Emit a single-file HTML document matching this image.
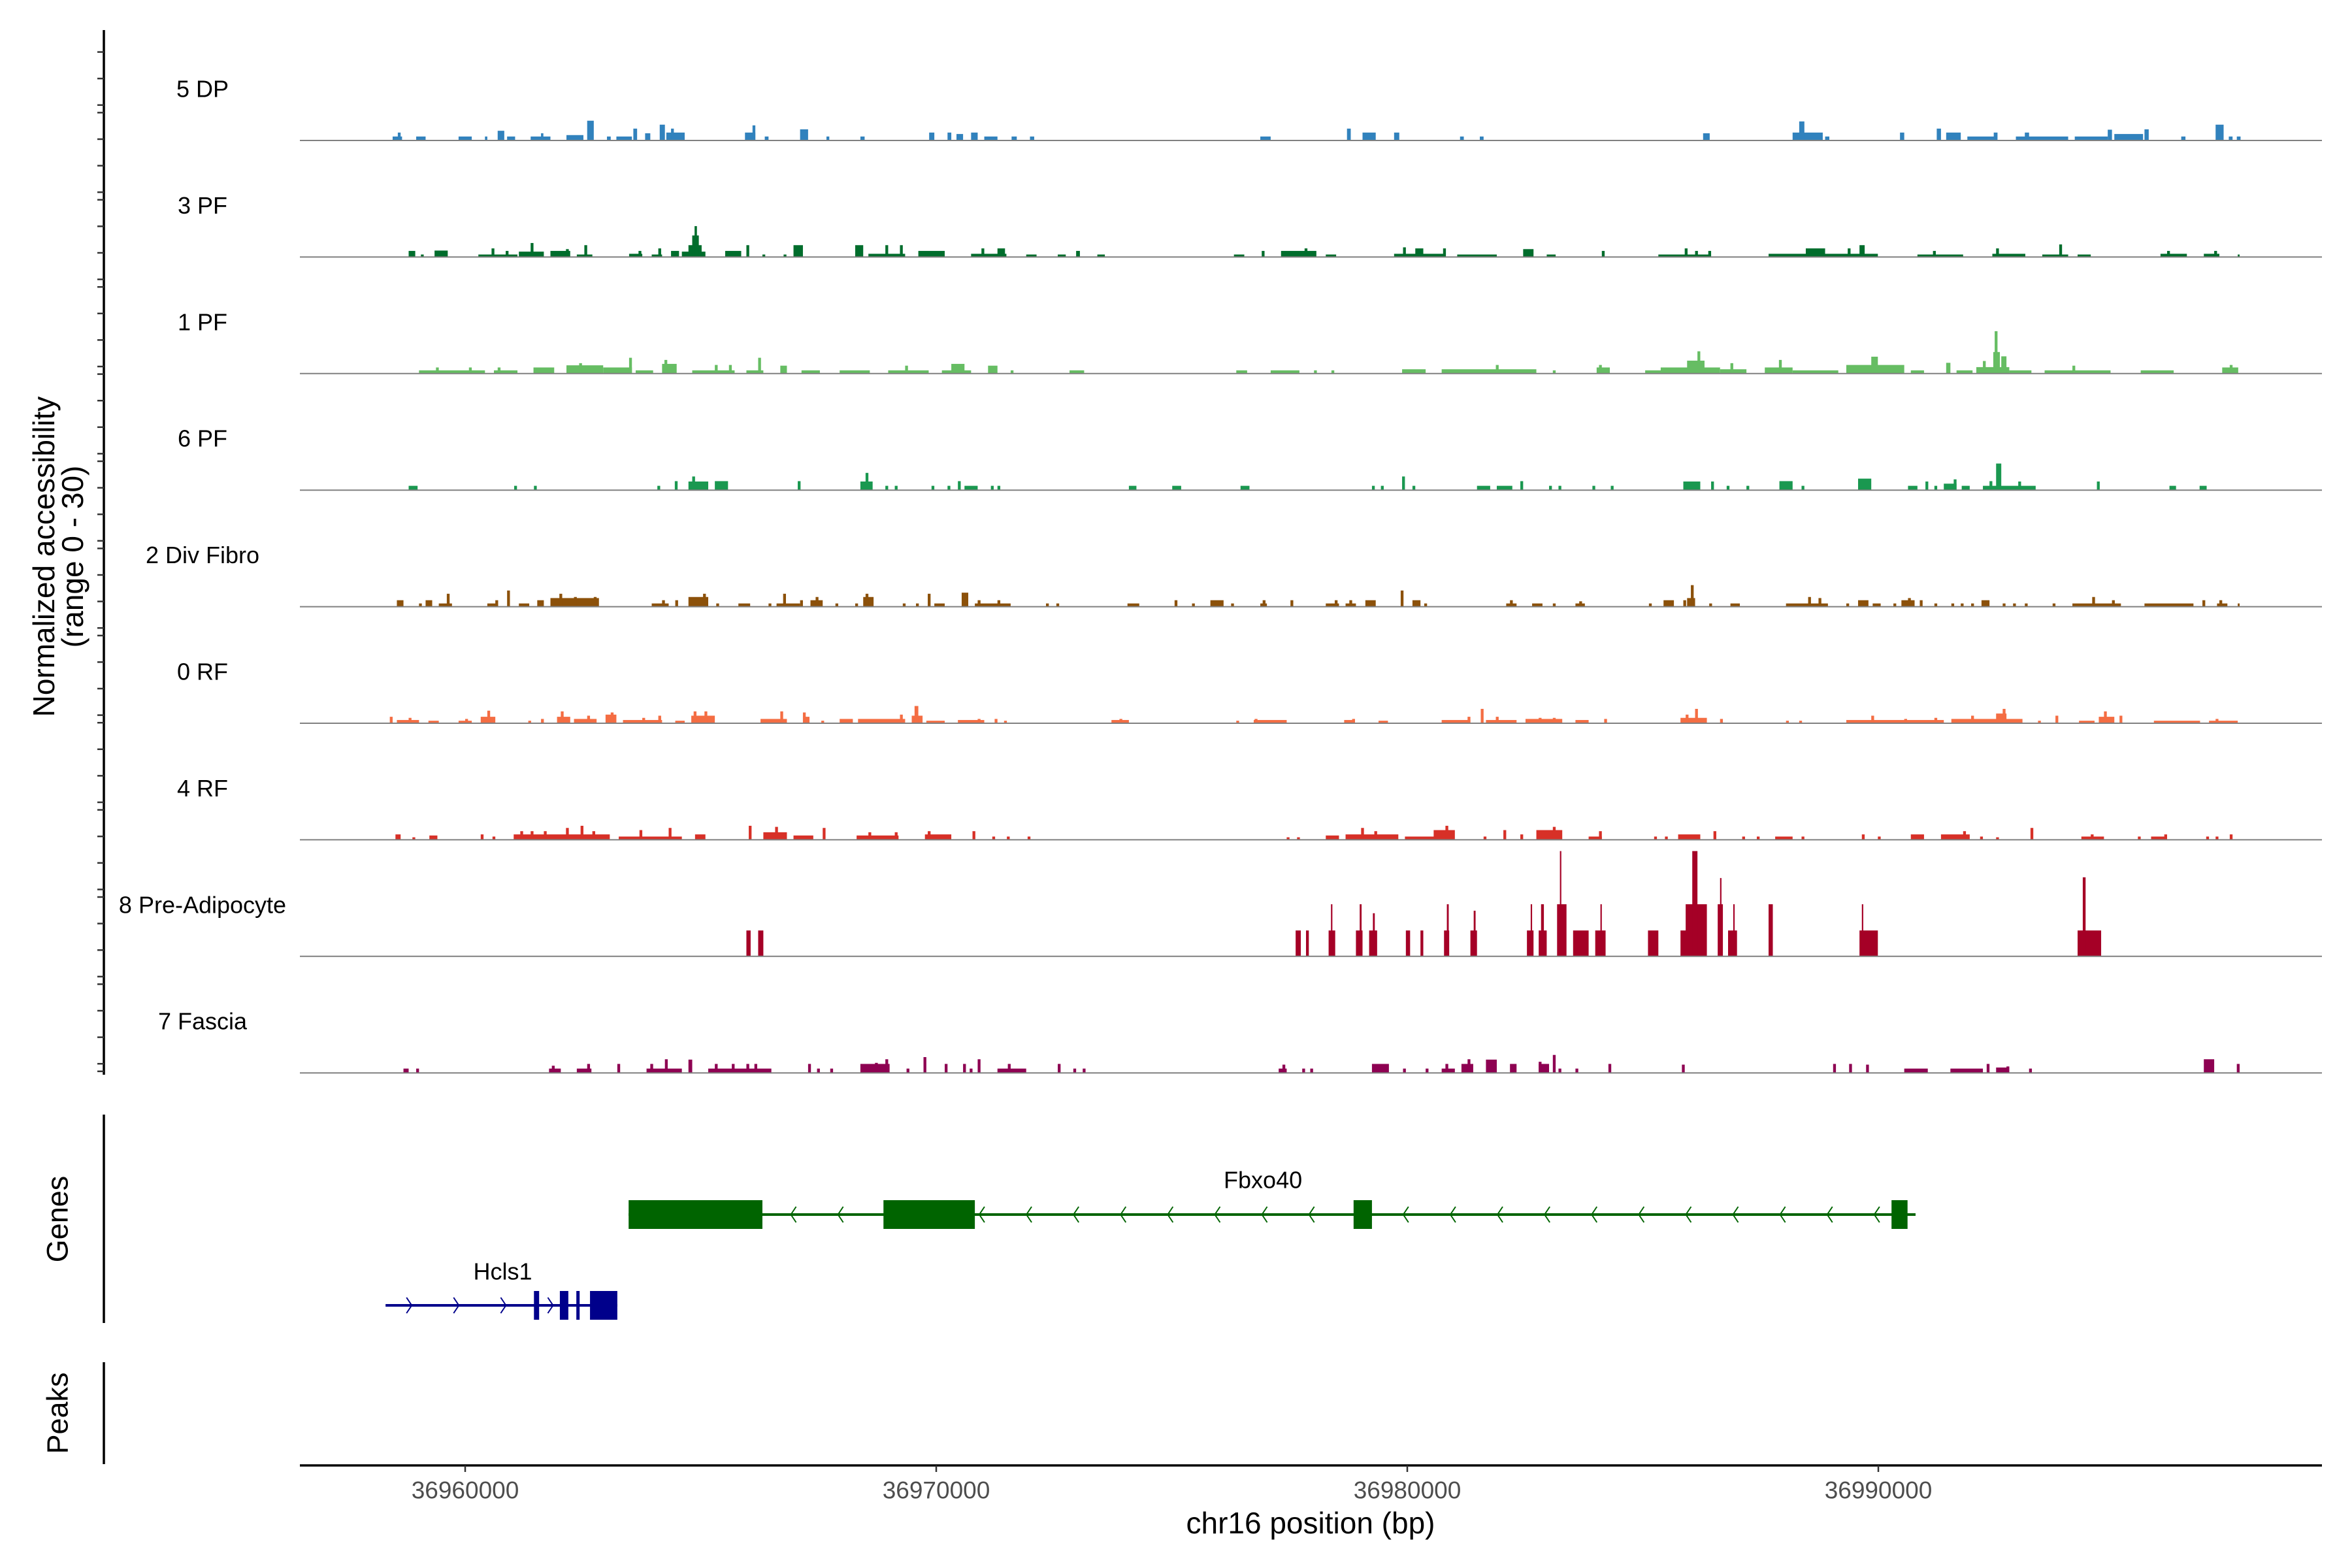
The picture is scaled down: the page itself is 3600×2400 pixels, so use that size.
<!DOCTYPE html>
<html><head><meta charset="utf-8">
<style>
html,body{margin:0;padding:0;background:#fff;}
svg{display:block;font-family:"Liberation Sans",Arial,sans-serif;}
</style></head>
<body>
<svg id="chart" width="3600" height="2400" viewBox="0 0 3600 2400" xmlns="http://www.w3.org/2000/svg">
<rect x="0" y="0" width="3600" height="2400" fill="#fff"/>
<g id="g-yaxis"></g>
<g id="g-tracks"></g>
<g id="g-genes"></g>
<g id="g-xaxis"></g>
<text transform="translate(67,852) rotate(-90)" text-anchor="middle" dominant-baseline="central" font-size="46" fill="#000">Normalized accessibility</text>
<text transform="translate(111,852) rotate(-90)" text-anchor="middle" dominant-baseline="central" font-size="46" fill="#000">(range 0 - 30)</text>
<text transform="translate(88,1866) rotate(-90)" text-anchor="middle" dominant-baseline="central" font-size="45" fill="#000">Genes</text>
<text transform="translate(88,2163) rotate(-90)" text-anchor="middle" dominant-baseline="central" font-size="45" fill="#000">Peaks</text>
<text x="2006" y="2331" text-anchor="middle" dominant-baseline="central" font-size="46" fill="#000">chr16 position (bp)</text>
</svg>
<script>
// positions in kb relative to OFFSET_KB; values in normalized accessibility (0-30)
const OFFSET_KB = 36950;
const trackNames = ["5 DP","3 PF","1 PF","6 PF","2 Div Fibro","0 RF","4 RF","8 Pre-Adipocyte","7 Fascia"];
const trackColors = ["#3182bd","#006d2c","#66bd63","#1a9850","#8c510a","#f46d43","#d73027","#a50026","#8e0152"];
const t5DP = [[8.46,8.66,1.1],[8.57,8.63,2.2],[8.96,9.16,1.1],[9.86,10.14,1.1],[10.42,10.47,1.1],[10.69,10.83,2.7],[10.89,11.06,1.1],[11.39,11.81,1.1],[11.61,11.66,2.0],[12.15,12.51,1.5],[12.59,12.73,5.5],[13.01,13.09,1.1],[13.21,13.54,1.1],[13.57,13.65,3.3],[13.82,13.93,2.0],[14.13,14.24,4.4],[14.27,14.66,2.2],[14.37,14.43,3.3],[15.94,16.16,2.2],[16.10,16.16,4.2],[16.36,16.44,1.1],[17.11,17.28,3.1],[17.67,17.73,1.1],[18.39,18.48,1.1],[19.85,19.96,2.2],[20.24,20.32,2.2],[20.43,20.57,1.8],[20.74,20.88,2.2],[21.02,21.30,1.1],[21.60,21.71,1.1],[21.99,22.08,1.1],[26.88,27.10,1.1],[28.72,28.80,3.3],[29.05,29.33,2.2],[29.72,29.83,2.2],[31.12,31.20,1.1],[31.54,31.62,1.1],[36.28,36.42,2.0],[38.18,38.82,2.2],[38.32,38.43,5.3],[38.87,38.96,1.1],[40.46,40.55,2.2],[41.24,41.33,3.3],[41.44,41.75,2.2],[41.89,42.50,1.1],[42.45,42.53,2.2],[42.92,44.03,1.1],[43.11,43.20,2.2],[44.17,44.87,1.1],[44.87,44.96,3.0],[45.01,45.62,1.8],[45.65,45.74,3.1],[46.43,46.52,1.1],[47.16,47.33,4.4],[47.44,47.52,1.1],[47.61,47.69,1.1]];
const t3PF = [[8.80,8.94,1.7],[9.06,9.12,0.7],[9.35,9.63,1.8],[10.28,11.11,0.7],[10.56,10.62,2.4],[10.86,10.92,1.7],[11.14,11.67,1.5],[11.39,11.45,3.9],[11.81,12.23,1.7],[12.14,12.20,2.2],[12.37,12.70,0.7],[12.53,12.59,3.3],[13.48,13.76,0.9],[13.68,13.74,1.7],[13.96,14.18,0.7],[14.10,14.16,2.4],[14.37,14.54,1.7],[14.60,15.10,1.5],[14.74,15.02,3.3],[14.82,14.96,6.0],[14.87,14.92,8.6],[15.52,15.86,1.7],[15.97,16.03,3.3],[16.31,16.37,0.7],[16.76,16.82,0.7],[16.97,17.17,3.3],[18.28,18.45,3.3],[18.56,19.34,0.9],[18.92,18.98,3.3],[19.23,19.29,3.3],[19.62,20.18,1.7],[20.74,21.49,0.9],[20.96,21.02,2.4],[21.30,21.46,2.4],[21.91,22.13,0.7],[22.58,22.75,0.7],[22.97,23.05,1.7],[23.42,23.58,0.7],[26.32,26.54,0.7],[26.91,26.97,1.7],[27.32,28.07,1.7],[27.82,27.88,2.4],[28.27,28.49,0.7],[29.72,30.78,0.9],[29.91,29.97,2.7],[30.17,30.34,2.4],[30.76,30.82,2.4],[31.06,31.90,0.7],[32.46,32.68,2.2],[32.96,33.15,0.7],[34.13,34.19,1.7],[35.33,36.45,0.7],[35.89,35.95,2.4],[36.11,36.17,1.7],[36.39,36.45,1.7],[37.67,39.99,0.9],[38.46,38.87,2.4],[39.35,39.41,2.4],[39.60,39.71,3.3],[40.83,41.80,0.7],[41.16,41.22,1.7],[42.42,43.12,0.9],[42.50,42.56,2.4],[43.48,44.03,0.7],[43.84,43.90,3.5],[44.23,44.51,0.7],[45.99,46.55,0.9],[46.13,46.19,1.7],[46.91,47.24,0.9],[47.13,47.19,1.7],[47.63,47.67,0.7]];
const t1PF = [[9.02,10.42,0.9],[9.38,9.44,1.7],[10.08,10.14,1.7],[10.61,11.11,0.9],[10.69,10.75,1.7],[11.45,11.89,1.7],[12.15,12.93,2.3],[12.42,12.48,2.9],[12.93,13.54,1.7],[13.48,13.54,4.4],[13.62,13.99,0.9],[14.18,14.49,2.7],[14.23,14.29,3.8],[14.82,15.72,0.9],[15.30,15.36,2.4],[15.60,15.66,2.4],[15.97,16.33,0.9],[16.22,16.28,4.4],[16.69,16.83,2.2],[17.14,17.53,0.9],[17.95,18.59,0.9],[18.98,19.84,0.9],[19.34,19.40,2.2],[20.12,20.74,0.9],[20.32,20.60,2.7],[21.10,21.30,2.2],[21.58,21.64,0.9],[22.83,23.14,0.9],[26.37,26.60,0.9],[27.10,27.71,0.9],[28.02,28.08,0.9],[28.39,28.45,0.9],[29.89,30.39,1.2],[30.73,32.74,1.2],[31.88,31.94,2.4],[33.09,33.15,0.9],[34.02,34.30,1.7],[34.07,34.13,2.4],[35.05,35.41,0.9],[35.38,36.64,1.7],[35.94,36.31,3.6],[36.16,36.22,6.2],[36.64,37.20,1.2],[36.86,36.92,2.9],[37.59,38.18,1.7],[37.89,37.95,3.8],[38.18,39.15,0.9],[39.32,40.55,2.4],[39.85,39.99,4.7],[40.69,40.97,0.9],[41.44,41.53,3.0],[41.66,42.00,0.9],[42.08,42.78,1.8],[42.22,42.28,3.5],[42.44,42.58,6.0],[42.47,42.53,11.8],[42.61,42.72,4.8],[42.78,43.25,0.9],[43.53,44.93,0.9],[44.12,44.18,2.2],[45.57,46.27,0.9],[47.30,47.64,1.7],[47.46,47.52,2.4]];
const t6PF = [[8.80,8.99,1.2],[11.04,11.10,1.2],[11.46,11.52,1.2],[14.08,14.14,1.2],[14.45,14.51,2.5],[14.74,15.16,2.4],[14.82,14.88,3.8],[15.30,15.58,2.5],[17.06,17.12,2.5],[18.39,18.65,2.4],[18.50,18.56,4.8],[18.92,18.98,1.2],[19.12,19.18,1.2],[19.90,19.96,1.2],[20.24,20.30,1.2],[20.46,20.52,2.5],[20.60,20.88,1.2],[21.16,21.22,1.2],[21.30,21.36,1.2],[24.09,24.25,1.2],[25.01,25.20,1.2],[26.46,26.65,1.2],[29.25,29.31,1.2],[29.44,29.50,1.2],[29.89,29.95,3.8],[30.11,30.17,1.2],[31.48,31.76,1.2],[31.90,32.23,1.2],[32.40,32.46,2.5],[33.01,33.07,1.2],[33.21,33.27,1.2],[33.93,33.99,1.2],[34.32,34.38,1.2],[35.86,36.22,2.4],[36.45,36.51,2.4],[36.78,36.84,1.2],[37.20,37.26,1.2],[37.90,38.18,2.5],[38.37,38.43,1.2],[39.57,39.85,3.2],[40.63,40.83,1.2],[41.00,41.06,2.4],[41.19,41.25,1.2],[41.39,41.66,1.8],[41.60,41.66,3.0],[41.77,41.94,1.2],[42.22,43.34,1.2],[42.36,42.42,2.5],[42.50,42.61,7.4],[42.97,43.03,2.4],[44.64,44.70,2.4],[46.18,46.32,1.2],[46.82,46.97,1.2]];
const tDivFibro = [[8.55,8.69,1.8],[9.02,9.08,0.9],[9.16,9.30,1.8],[9.44,9.72,0.9],[9.61,9.67,3.6],[10.47,10.69,0.9],[10.64,10.70,1.8],[10.89,10.95,4.5],[11.14,11.36,0.9],[11.53,11.67,1.8],[11.81,12.84,2.4],[12.00,12.06,3.6],[12.31,12.37,2.7],[12.73,12.79,2.7],[13.96,14.32,0.9],[14.18,14.24,1.8],[14.46,14.52,1.8],[14.74,15.16,2.7],[15.05,15.11,3.6],[15.33,15.39,0.9],[15.80,16.05,0.9],[16.44,16.50,0.9],[16.61,17.11,0.9],[16.75,16.81,3.6],[17.11,17.17,1.8],[17.33,17.59,1.8],[17.44,17.50,2.7],[17.86,17.92,0.9],[18.28,18.34,0.9],[18.45,18.67,2.7],[18.50,18.56,3.6],[19.29,19.35,0.9],[19.57,19.63,0.9],[19.82,19.88,3.6],[19.96,20.18,0.9],[20.54,20.68,3.9],[20.82,21.58,0.9],[20.88,20.94,1.8],[21.30,21.36,1.8],[22.33,22.39,0.9],[22.55,22.61,0.9],[24.06,24.31,0.9],[25.06,25.12,1.8],[25.43,25.49,0.9],[25.82,26.10,1.8],[26.26,26.32,0.9],[26.88,27.02,0.9],[26.93,26.99,1.8],[27.52,27.58,1.8],[28.27,28.55,0.9],[28.46,28.52,1.8],[28.69,28.91,0.9],[28.77,28.83,1.8],[29.11,29.33,1.8],[29.86,29.92,4.5],[30.11,30.28,1.8],[30.36,30.42,0.9],[32.10,32.32,0.9],[32.18,32.24,1.8],[32.65,32.87,0.9],[33.09,33.15,0.9],[33.57,33.77,0.9],[33.65,33.71,1.5],[35.13,35.19,0.9],[35.44,35.66,1.8],[35.86,35.92,1.8],[35.94,36.11,2.4],[36.02,36.08,6.0],[36.41,36.47,0.9],[36.86,37.06,0.9],[38.04,38.93,0.9],[38.51,38.57,2.7],[38.73,38.79,2.4],[39.32,39.38,0.9],[39.57,39.79,1.8],[39.88,40.05,0.9],[40.32,40.38,0.9],[40.49,40.77,1.8],[40.63,40.69,2.4],[40.88,40.94,1.8],[41.19,41.25,0.9],[41.55,41.61,0.9],[41.75,41.81,0.9],[41.97,42.03,0.9],[42.19,42.36,1.8],[42.64,42.70,0.9],[42.86,42.92,0.9],[43.11,43.17,0.9],[43.70,43.76,0.9],[44.12,45.15,0.9],[44.54,44.60,2.7],[44.96,45.02,1.8],[45.65,46.69,0.9],[46.88,46.94,1.8],[47.19,47.41,0.9],[47.24,47.30,1.8],[47.63,47.67,0.9]];
const t0RF = [[8.40,8.46,1.8],[8.55,9.02,0.9],[8.80,8.86,1.5],[9.22,9.44,0.7],[9.86,10.14,0.7],[10.00,10.06,1.2],[10.33,10.64,1.8],[10.47,10.53,3.5],[11.34,11.40,0.7],[11.61,11.67,1.2],[11.95,12.23,1.8],[12.03,12.09,3.3],[12.31,12.79,1.2],[12.59,12.65,2.1],[12.98,13.21,2.4],[13.09,13.15,3.0],[13.35,14.18,0.9],[13.76,13.82,1.5],[14.10,14.16,2.1],[14.46,14.66,0.7],[14.80,15.30,2.1],[14.85,14.91,3.3],[15.08,15.14,3.3],[16.27,16.83,1.2],[16.69,16.75,3.3],[17.17,17.31,1.8],[17.17,17.23,3.0],[17.56,17.62,0.7],[17.95,18.23,1.2],[18.34,19.34,1.2],[19.23,19.29,2.4],[19.48,19.71,2.1],[19.54,19.62,4.8],[19.79,20.18,0.7],[20.46,21.02,0.9],[20.88,20.94,1.2],[21.24,21.30,1.2],[21.44,21.50,0.7],[23.72,24.09,0.9],[23.89,23.95,1.2],[26.37,26.43,0.7],[26.74,27.44,0.9],[26.76,26.82,1.2],[28.66,28.89,0.9],[28.83,28.89,1.2],[29.39,29.59,0.7],[30.73,31.34,0.9],[31.28,31.34,1.8],[31.56,31.62,4.0],[31.67,32.32,0.9],[31.88,31.94,1.8],[32.51,33.29,1.2],[32.79,32.85,1.5],[33.09,33.15,1.5],[33.57,33.85,0.9],[34.18,34.24,1.2],[35.80,36.36,1.5],[35.91,35.97,2.4],[36.11,36.17,4.0],[36.64,36.70,1.2],[38.04,38.10,0.7],[38.32,38.38,0.7],[39.32,41.39,0.9],[39.85,39.91,2.1],[40.55,40.61,1.2],[41.19,41.25,1.5],[41.55,43.06,1.2],[41.97,42.03,2.1],[42.50,42.72,2.7],[42.64,42.70,4.0],[43.39,43.45,0.7],[43.76,43.82,2.1],[44.26,44.59,0.7],[44.68,45.01,1.8],[44.79,44.85,3.3],[45.12,45.18,2.1],[45.85,46.83,0.7],[47.02,47.63,0.7],[47.16,47.22,1.2]];
const t4RF = [[8.52,8.63,1.5],[8.88,8.94,0.7],[9.24,9.41,1.2],[10.33,10.39,1.5],[10.58,10.64,0.9],[11.03,13.07,1.5],[11.17,11.23,2.4],[11.39,11.45,2.4],[11.67,11.73,2.4],[12.14,12.20,3.3],[12.45,12.51,3.9],[12.70,12.76,2.4],[13.26,14.60,0.9],[13.70,13.76,2.7],[14.32,14.38,3.3],[14.88,15.10,1.5],[16.02,16.08,3.9],[16.33,16.83,2.1],[16.58,16.64,3.6],[16.97,17.39,1.2],[17.59,17.65,3.3],[18.31,19.20,1.2],[18.56,18.62,2.1],[19.12,19.18,2.1],[19.76,20.32,1.5],[19.82,19.88,2.4],[20.77,20.83,2.4],[21.19,21.25,0.9],[21.50,21.56,0.9],[21.94,22.00,0.9],[27.44,27.50,0.7],[27.66,27.72,0.7],[28.27,28.55,1.2],[28.69,29.81,1.5],[29.02,29.08,3.3],[29.30,29.36,2.4],[29.95,30.78,0.9],[30.56,31.01,2.7],[30.81,30.87,3.9],[31.62,31.68,0.9],[32.04,32.10,2.7],[32.40,32.46,1.5],[32.74,33.29,2.7],[33.09,33.15,3.6],[33.85,34.13,0.9],[34.07,34.13,2.4],[35.24,35.30,0.9],[35.47,35.53,0.9],[35.75,36.22,1.5],[36.50,36.56,2.4],[37.11,37.17,0.9],[37.42,37.48,0.9],[37.81,38.18,0.9],[38.37,38.43,0.9],[39.65,39.71,1.5],[39.99,40.05,0.9],[40.69,40.97,1.5],[41.33,41.94,1.5],[41.80,41.86,2.4],[42.16,42.22,0.9],[42.50,42.56,0.7],[43.23,43.29,3.3],[44.31,44.79,0.9],[44.51,44.57,1.5],[45.51,45.57,0.9],[45.79,46.13,0.9],[46.07,46.13,1.5],[46.96,47.02,0.9],[47.16,47.22,0.9],[47.46,47.52,1.5]];
const tPreAdipocyte = [[15.97,16.06,7.2],[16.22,16.33,7.2],[27.63,27.74,7.2],[27.85,27.91,7.2],[28.33,28.47,7.2],[28.38,28.41,14.5],[28.91,29.05,7.2],[28.99,29.03,14.5],[29.19,29.36,7.2],[29.27,29.31,12.0],[29.97,30.06,7.2],[30.28,30.34,7.2],[30.78,30.89,7.2],[30.84,30.88,14.5],[31.34,31.48,7.2],[31.41,31.45,12.7],[32.54,32.68,7.2],[32.62,32.65,14.5],[32.79,32.96,7.2],[32.84,32.90,14.5],[33.18,33.38,14.5],[33.24,33.27,29.3],[33.52,33.85,7.2],[33.99,34.21,7.2],[34.10,34.13,14.5],[35.11,35.33,7.2],[35.80,36.02,7.2],[35.91,36.36,14.5],[36.05,36.16,29.3],[36.59,36.70,14.5],[36.64,36.67,21.8],[36.81,37.00,7.2],[36.92,36.95,14.5],[37.67,37.76,14.5],[39.60,39.99,7.2],[39.65,39.68,14.5],[44.23,44.73,7.2],[44.34,44.40,22.0]];
const tFascia = [[8.69,8.80,1.2],[8.96,9.02,1.2],[11.78,12.03,1.2],[11.84,11.90,2.0],[12.37,12.68,1.2],[12.59,12.65,2.5],[13.23,13.29,2.5],[13.85,14.60,1.2],[13.93,13.99,2.5],[14.24,14.30,3.8],[14.74,14.82,3.7],[15.16,16.50,1.2],[15.30,15.36,2.5],[15.66,15.72,2.5],[15.97,16.03,2.5],[16.14,16.20,2.5],[17.28,17.34,2.5],[17.47,17.53,1.2],[17.75,17.81,1.2],[18.39,19.01,2.5],[18.70,18.76,2.8],[18.92,18.98,3.8],[19.37,19.43,1.2],[19.73,19.79,4.4],[20.18,20.24,2.5],[20.57,20.63,2.5],[20.71,20.77,1.2],[20.88,20.94,3.8],[21.30,21.91,1.2],[21.52,21.58,2.5],[22.58,22.64,2.5],[22.91,22.97,1.2],[23.11,23.17,1.2],[27.27,27.44,1.2],[27.35,27.41,2.3],[27.77,27.83,1.2],[27.94,28.00,1.2],[29.25,29.61,2.5],[29.91,29.97,1.2],[30.39,30.45,1.2],[30.73,31.01,1.2],[30.81,30.87,2.5],[31.15,31.40,2.5],[31.28,31.34,3.8],[31.67,31.90,3.7],[32.18,32.32,2.5],[32.79,33.01,2.5],[32.79,32.85,3.1],[33.09,33.15,5.0],[33.21,33.27,1.2],[33.57,33.63,1.2],[34.27,34.33,2.5],[35.83,35.89,2.3],[39.04,39.10,2.5],[39.38,39.44,2.5],[39.74,39.80,2.3],[40.55,41.05,1.2],[41.53,42.22,1.2],[42.30,42.36,2.5],[42.50,42.78,1.5],[42.72,42.78,1.8],[43.20,43.26,1.2],[46.91,47.13,3.8],[47.61,47.67,2.5]];
const trackData = [t5DP,t3PF,t1PF,t6PF,tDivFibro,t0RF,t4RF,tPreAdipocyte,tFascia];
const xTicks = [36960000,36970000,36980000,36990000];
const xTickLabels = ["36960000","36970000","36980000","36990000"];
const fbxoName = "Fbxo40";
const fbxoSpan = [13.47,40.79];
const fbxoExons = [[13.47,16.31],[18.88,20.82],[28.86,29.25],[40.28,40.62]];
const hclsName = "Hcls1";
const hclsSpan = [8.31,13.23];
const hclsExons = [[11.46,11.57],[12.01,12.19],[12.36,12.43],[12.65,13.23]];

const NS = "http://www.w3.org/2000/svg";
const PX_PER_KB = 72.1;
function xScale(bp){ return 712 + (bp - 36960000) / 1000 * PX_PER_KB; }
function xKb(kb){ return xScale((OFFSET_KB + kb) * 1000); }
const TRACK_TOP0 = 215, TRACK_STEP = 178.4, PX_PER_UNIT = 5.5;
function baseY(i){ return TRACK_TOP0 + i * TRACK_STEP; }
function yScale(i, v){ return baseY(i) - Math.min(v, 30) * PX_PER_UNIT; }
function mk(tag, attrs, parent){
  const e = document.createElementNS(NS, tag);
  for (const k in attrs) e.setAttribute(k, attrs[k]);
  parent.appendChild(e); return e;
}

// y axis
const gy = document.getElementById('g-yaxis');
let ax = mk('line', {x1:159, y1:46, x2:159, y2:1645, stroke:'#000', 'stroke-width':3.5}, gy);


for (let g = 0; g < 13; g++) {
  for (let k = 0; k < 4; k++) {
    const ty = 39 + g * 133.4 + k * 40.6;
    if (ty > 1640 || ty < 46) continue;
    const tk = mk('line', {x1:149, y1:ty, x2:159, y2:ty, stroke:'#333', 'stroke-width':2.5}, gy);
    
    
  }
}
let ag = mk('line', {x1:159, y1:1706, x2:159, y2:2025, stroke:'#000', 'stroke-width':3.5}, gy);


let ap = mk('line', {x1:159, y1:2085, x2:159, y2:2241, stroke:'#000', 'stroke-width':3.5}, gy);



// tracks
const gt = document.getElementById('g-tracks');
trackData.forEach((segs, i) => {
  const g = mk('g', {fill: trackColors[i]}, gt);
  
  
  const lab = mk('text', {x:310, y:baseY(i) - 79, 'text-anchor':'middle', 'dominant-baseline':'central', 'font-size':36, fill:'#000'}, g);
  lab.textContent = trackNames[i];
  
  
  segs.forEach(s => {
    const x0 = xKb(s[0]), x1 = xKb(s[1]);
    const y = yScale(i, s[2]);
    const r = mk('rect', {x:x0, y:y, width:Math.max(1.6, x1 - x0), height:baseY(i) - y}, g);
    
    
  });
  const bl = mk('line', {x1:459, y1:baseY(i), x2:3554, y2:baseY(i), stroke:'#808080', 'stroke-width':2}, g);
  
  
});

// genes
const gg = document.getElementById('g-genes');
function drawGene(name, span, exons, yc, color, dir, labelY, labelShift){
  const g = mk('g', {}, gg);
  
  
  const l = mk('line', {x1:xKb(span[0]), y1:yc, x2:xKb(span[1]), y2:yc, stroke:color, 'stroke-width':4}, g);
  
  
  for (let kb = span[0] + 0.5; kb < span[1]; kb += 1.0) {
    const inExon = exons.some(e => kb >= e[0] - 0.1 && kb <= e[1] + 0.1);
    if (inExon) continue;
    const cx = xKb(kb);
    const p = mk('polyline', {points: `${cx + 4*dir},${yc - 12} ${cx - 4*dir},${yc} ${cx + 4*dir},${yc + 12}`, fill:'none', stroke:color, 'stroke-width':2}, g);
    
    
  }
  exons.forEach(e => {
    const r = mk('rect', {x:xKb(e[0]), y:yc - 22, width:Math.max(4, xKb(e[1]) - xKb(e[0])), height:44, fill:color}, g);
    
    
  });
  const t = mk('text', {x:(xKb(span[0]) + xKb(span[1])) / 2 + labelShift, y:labelY, 'text-anchor':'middle', 'dominant-baseline':'central', 'font-size':36, fill:'#000'}, g);
  t.textContent = name;
  
  
}
drawGene(fbxoName, fbxoSpan, fbxoExons, 1859, '#006400', 1, 1806, -14);
drawGene(hclsName, hclsSpan, hclsExons, 1998, '#00008b', -1, 1946, 2);

// x axis
const gx = document.getElementById('g-xaxis');
const xl = mk('line', {x1:459, y1:2243, x2:3554, y2:2243, stroke:'#000', 'stroke-width':3.5}, gx);


xTicks.forEach((v, i) => {
  const tx = xScale(v);
  const tk = mk('line', {x1:tx, y1:2243, x2:tx, y2:2253, stroke:'#333', 'stroke-width':2.5}, gx);
  
  
  const t = mk('text', {x:tx, y:2281, 'text-anchor':'middle', 'dominant-baseline':'central', 'font-size':37, fill:'#4d4d4d'}, gx);
  t.textContent = xTickLabels[i];
  
  
});
</script>
</body></html>
